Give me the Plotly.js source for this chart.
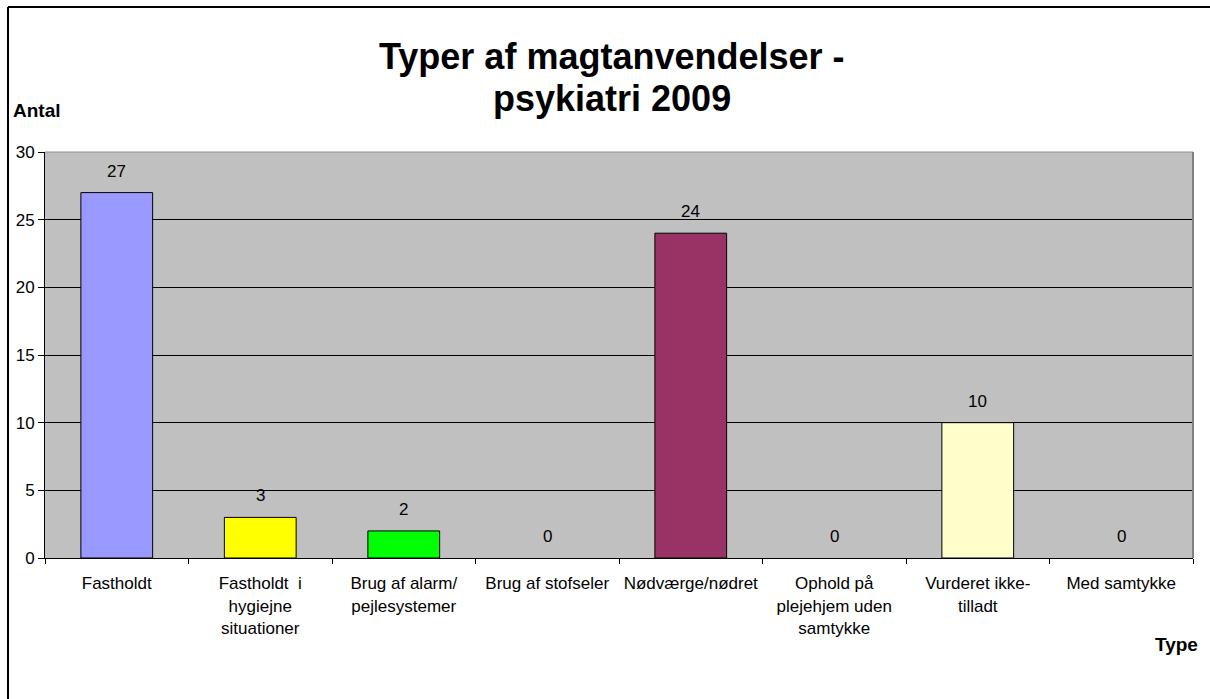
<!DOCTYPE html>
<html>
<head>
<meta charset="utf-8">
<script src="https://cdn.plot.ly/plotly-3.0.1.min.js"></script>
<style>
  body { margin: 0; background: #fff; }
  #chart { width: 1210px; height: 699px; }
</style>
</head>
<body>
<div id="chart"></div>
<script>
// categories and counts
const typeLabels = [
    "Fastholdt",
    "Fastholdt  i<br>hygiejne<br>situationer",
    "Brug af alarm/<br>pejlesystemer",
    "Brug af stofseler",
    "Nødværge/nødret",
    "Ophold på<br>plejehjem uden<br>samtykke",
    "Vurderet ikke-<br>tilladt",
    "Med samtykke"
];
const counts = [27, 3, 2, 0, 24, 0, 10, 0];
const barColors = ["#9999FF", "#FFFF00", "#00FF00", "#FF8080", "#993366", "#00FFFF", "#FFFFCC", "#CCFFFF"];
const titleLines = ["Typer af magtanvendelser -", "psykiatri 2009"];

const font = "Liberation Sans, Arial, sans-serif";

// plot area in pixels: x 45..1193, y 152..558
const plotW = 1148, plotH = 406, plotBottom = 558, plotLeft = 45;
function py(pixelY) { return (plotBottom - pixelY) / plotH; }
function px(pixelX) { return (pixelX - plotLeft) / plotW; }

const trace = {
    x: typeLabels,
    y: counts,
    type: "bar",
    width: 0.5,
    marker: {
        color: barColors,
        // zero bars draw no outline
        line: { color: "#000", width: counts.map(function (v) { return v > 0 ? 1 : 0; }) }
    },
    hoverinfo: "x+y"
};

// value labels above each bar
const valueLabels = typeLabels.map(function (cat, i) {
    return {
        x: cat,
        y: counts[i],
        text: String(counts[i]),
        showarrow: false,
        yanchor: "bottom",
        yshift: 10,
        font: { family: font, size: 17, color: "#000" }
    };
});

const titleNotes = titleLines.map(function (line, i) {
    return {
        xref: "paper", yref: "paper",
        x: px(612), y: py(i === 0 ? 57 : 98),
        xanchor: "center", yanchor: "middle",
        text: "<b>" + line + "</b>", showarrow: false,
        font: { family: font, size: 36, color: "#000" }
    };
});

const layout = {
    width: 1210,
    height: 699,
    margin: { l: 45, r: 17, t: 152, b: 141 },
    paper_bgcolor: "#fff",
    plot_bgcolor: "#C0C0C0",
    font: { family: font, size: 17, color: "#000" },
    showlegend: false,
    xaxis: {
        type: "category",
        tickson: "boundaries",
        ticks: "outside",
        ticklen: 5,
        tickcolor: "#000",
        ticklabelstandoff: 10,
        showline: true,
        linecolor: "#000",
        linewidth: 1,
        showgrid: false,
        tickfont: { family: font, size: 17 },
        fixedrange: true
    },
    yaxis: {
        range: [0, 30],
        dtick: 5,
        ticks: "outside",
        ticklen: 6,
        tickcolor: "#000",
        showline: true,
        linecolor: "#000",
        gridcolor: "#000",
        gridwidth: 1,
        zeroline: false,
        tickfont: { family: font, size: 17 },
        fixedrange: true
    },
    annotations: valueLabels.concat(titleNotes, [
        {
            xref: "paper", yref: "paper",
            x: px(11), y: py(110),
            xanchor: "left", yanchor: "middle",
            text: "<b>Antal</b>", showarrow: false,
            font: { family: font, size: 19 }
        },
        {
            xref: "paper", yref: "paper",
            x: px(1200), y: py(644),
            xanchor: "right", yanchor: "middle",
            text: "<b>Type</b>", showarrow: false,
            font: { family: font, size: 19 }
        }
    ]),
    shapes: [
        // outer chart frame (top and left edges visible)
        { type: "line", xref: "paper", yref: "paper", x0: px(8), x1: px(1215), y0: py(7), y1: py(7), line: { color: "#000", width: 2 } },
        { type: "line", xref: "paper", yref: "paper", x0: px(8), x1: px(8), y0: py(7), y1: py(705), line: { color: "#000", width: 2 } },
        // plot area border
        { type: "line", xref: "paper", yref: "paper", x0: 0, x1: 1, y0: 1, y1: 1, line: { color: "#909090", width: 1 } },
        { type: "line", xref: "paper", yref: "paper", x0: 1, x1: 1, y0: 0, y1: 1, line: { color: "#808080", width: 2 } }
    ]
};

Plotly.newPlot("chart", [trace], layout, { displayModeBar: false, staticPlot: true });
</script>
</body>
</html>
